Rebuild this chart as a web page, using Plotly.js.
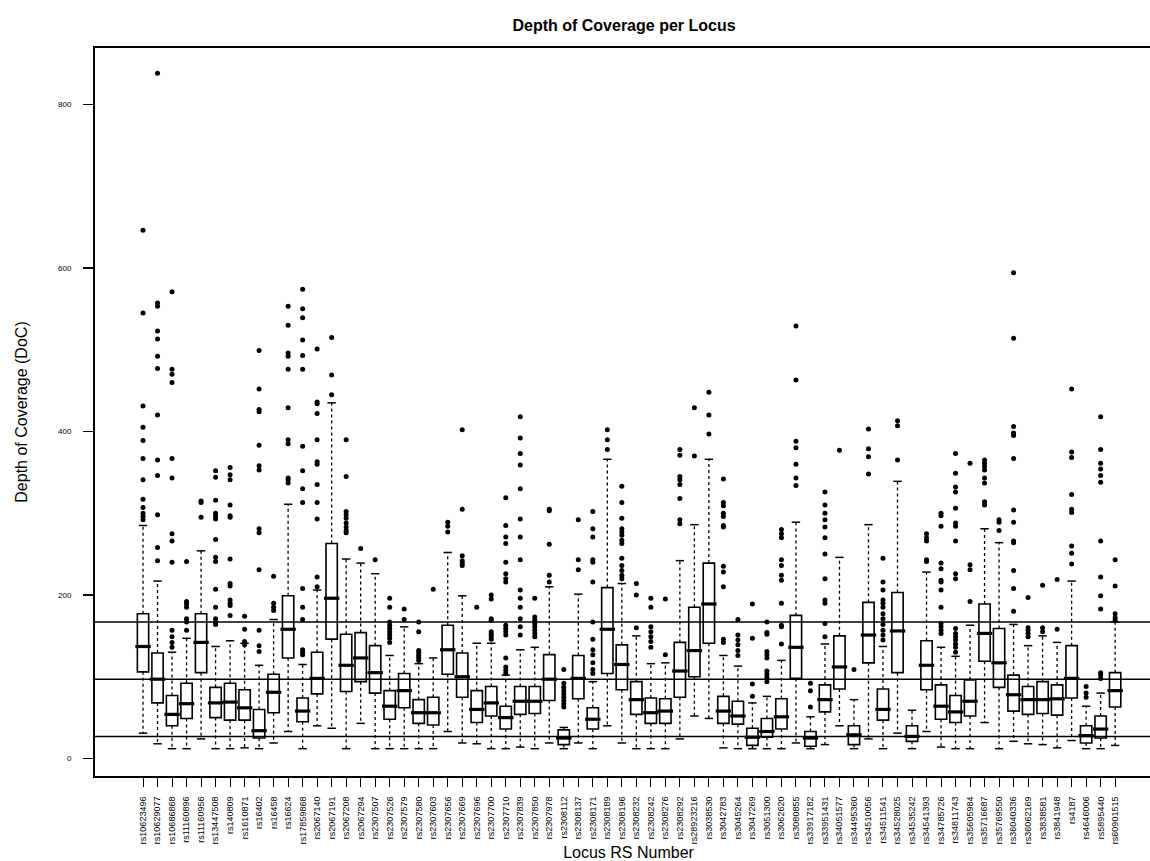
<!DOCTYPE html>
<html>
<head>
<meta charset="utf-8">
<script src="https://cdn.plot.ly/plotly-3.0.1.min.js"></script>
<style>html,body{margin:0;padding:0;background:#fff;overflow:hidden;width:1150px;height:861px;}#chart{width:1162px;height:861px;}</style>
</head>
<body>
<div id="chart"></div>
<script>
var loci = ["rs10623496","rs10629077","rs10686868","rs11160896","rs11160956","rs13447508","rs140809","rs1610871","rs16402","rs16458","rs16624","rs17859868","rs2067140","rs2067191","rs2067208","rs2067294","rs2307507","rs2307526","rs2307579","rs2307580","rs2307603","rs2307656","rs2307669","rs2307696","rs2307700","rs2307710","rs2307839","rs2307850","rs2307978","rs2308112","rs2308137","rs2308171","rs2308189","rs2308196","rs2308232","rs2308242","rs2308276","rs2308292","rs28923216","rs3038530","rs3042783","rs3045264","rs3047269","rs3051300","rs3062620","rs3080855","rs33917182","rs33951431","rs34051577","rs34495360","rs34510056","rs34511541","rs34528025","rs34535242","rs34541393","rs34785726","rs34811743","rs35605984","rs35716687","rs35769550","rs36040336","rs36062169","rs3838581","rs3841948","rs4187","rs4646006","rs5895440","rs60901515"];

var lowerWhisker = [31,18,12,12,24,12,12,13,12,19,33,12,40,37,12,43,12,12,12,12,12,33,19,18,12,12,14,12,19,12,19,12,40,19,12,12,12,24,52,49,13,12,12,12,12,19,12,17,40,12,24,12,31,12,33,14,12,12,44,12,21,18,17,13,22,12,12,16];
var q1 = [106,68,40,49,105,50,47,47,25,56,123,45,79,146,82,94,80,48,62,43,41,103,75,44,52,36,54,55,71,17,73,36,104,84,54,43,43,75,100,141,43,42,16,26,36,98,15,57,85,17,117,47,105,21,84,48,44,52,119,87,58,54,55,53,74,19,25,63];
var median = [137,97,54,67,142,68,69,62,34,81,158,58,98,196,114,123,105,64,83,56,56,133,100,60,68,50,70,70,97,25,98,48,158,115,72,56,58,107,132,189,58,52,26,33,51,136,25,72,112,29,151,60,156,27,114,64,57,70,153,117,78,72,72,73,98,28,36,83];
var q3 = [177,129,77,92,177,87,92,84,60,103,199,74,130,263,152,154,138,83,104,72,75,163,129,83,88,64,88,88,127,35,126,62,209,139,94,74,73,142,185,239,76,70,37,49,73,175,33,90,150,40,191,85,203,40,144,90,77,96,189,159,102,88,94,90,138,40,52,105];
var upperWhisker = [285,217,130,147,254,137,144,141,114,170,311,115,206,435,244,239,226,126,161,116,123,252,199,141,141,102,133,136,210,38,201,94,366,214,150,116,117,242,286,366,126,113,68,76,120,289,51,140,246,72,286,137,339,59,228,136,125,163,281,264,164,138,150,142,217,64,80,167];
var outliers = [
 [646,545,431,405,389,367,341,317,307,300,296,292],
 [838,557,553,523,513,492,477,420,365,346,298,258,242],
 [571,476,470,460,367,343,275,266,240,157,149,142,136],
 [241,192,189,185,171,167,157],
 [315,313,295],
 [352,344,316,300,296,293,268,246,241,207,185,171,167,164],
 [356,347,341,310,297,295,244,214,211,194,190,187,175],
 [174,158,143,139],
 [499,452,427,424,383,358,353,281,276,231,157,138,131],
 [223,190,185,181],
 [553,530,496,492,476,429,390,385,343,341,337],
 [574,550,539,512,493,476,382,352,330,313,208,185,170,133,130,127],
 [501,436,434,422,390,363,360,335,313,293,222,210],
 [515,469,445],
 [390,345,302,298,294,288,283,279,276],
 [257],
 [243],
 [196,185,167,163,159,155,151,147,142],
 [183,170],
 [167,155,132,129,126,123,120],
 [207],
 [289,284,277],
 [402,305,248,242,239,236],
 [185],
 [200,195,171,169,155,152,149,146],
 [319,285,271,263,240,226,220,216,163,159,155,151,123,112,108,104],
 [418,392,373,359,330,293,271,243,206,196,185,171,161,151],
 [196,173,169,165,161,157,153,149],
 [305,303,262,224,216],
 [109,92,87,83,79,75,71,67,63],
 [292,243,231],
 [302,281,271,243,240,216,167,146,133,127,117,109,104],
 [402,390,378],
 [333,313,294,281,277,273,267,263,245,236,230,224,220],
 [214,200,160],
 [196,185,161,155,149,143,136],
 [195,127],
 [378,371,345,341,335,318,292,287],
 [429,370],
 [448,420,397],
 [342,313,309,300,296,285,283,235,228,210,146,142],
 [170,151,145,139,132,126],
 [189,147,91,76],
 [167,154,152,131,127,123,107,103,99,94],
 [280,275,270,243,236,224,218,190,163,161,140],
 [529,463,388,380,360,343,334],
 [92,83,63],
 [326,310,300,292,283,270,250,220,194,190,165,149],
 [377],
 [109],
 [403,379,369,348],
 [245,216,206,194,190,185,177,171,164,157,151,145],
 [413,407,365],
 [],
 [275,270,266,243,241],
 [300,297,284,239,232,218,216,206,185,165,161,157,153],
 [373,349,332,326,306,288,284,266,226,220,159,153,149,145,140,136,130],
 [361,237,231,192],
 [365,361,357,353,343,337,314,310],
 [292,289,279],
 [594,514,406,398,395,367,304,289,266,264,230,208,180],
 [197,160,157,153,149],
 [212,160,155],
 [219,158],
 [452,375,368,323,305,301,260,251,238],
 [88,80,75],
 [418,378,361,354,346,338,266,222,199,183,105,102,98],
 [243,211,177,172,169]
];
var referenceLines = [27, 97, 167];
var yTicks = [0, 200, 400, 600, 800];

// build derived trace arrays
var whiskX = [], whiskY = [];
var capX = [], capY = [];
var outX = [], outY = [];
for (var i = 0; i < loci.length; i++) {
  whiskX.push(loci[i], loci[i], null, loci[i], loci[i], null);
  whiskY.push(q3[i], upperWhisker[i], null, q1[i], lowerWhisker[i], null);
  capX.push(loci[i], loci[i]);
  capY.push(upperWhisker[i], lowerWhisker[i]);
  for (var j = 0; j < outliers[i].length; j++) {
    outX.push(loci[i]);
    outY.push(outliers[i][j]);
  }
}

var traces = [
  {
    type: 'box', x: loci, q1: q1, median: median, q3: q3,
    lowerfence: q1, upperfence: q3,
    boxpoints: false, width: 0.78, whiskerwidth: 0,
    fillcolor: '#ffffff', line: {color: '#000000', width: 1.6},
    hoverinfo: 'skip', showlegend: false
  },
  {
    type: 'scatter', mode: 'lines', x: whiskX, y: whiskY,
    line: {color: '#000000', width: 1.3, dash: '3px,3px'},
    connectgaps: false, hoverinfo: 'skip', showlegend: false
  },
  {
    type: 'scatter', mode: 'markers', x: capX, y: capY,
    marker: {symbol: 'line-ew', size: 6, color: '#000000', line: {color: '#000000', width: 1.5}},
    hoverinfo: 'skip', showlegend: false
  },
  {
    type: 'scatter', mode: 'markers', x: loci, y: median,
    marker: {symbol: 'line-ew', size: 11, color: '#000000', line: {color: '#000000', width: 3.2}},
    hoverinfo: 'skip', showlegend: false
  },
  {
    type: 'scatter', mode: 'markers', x: outX, y: outY,
    marker: {symbol: 'circle', size: 5, color: '#000000'},
    hoverinfo: 'skip', showlegend: false
  }
];

var shapes = referenceLines.map(function (v) {
  return {type: 'line', xref: 'paper', x0: 0, x1: 1, yref: 'y', y0: v, y1: v,
          line: {color: '#000000', width: 1.6}};
});

var layout = {
  width: 1162, height: 861,
  margin: {l: 95, r: 0, t: 48, b: 85},
  paper_bgcolor: '#ffffff', plot_bgcolor: '#ffffff',
  font: {family: 'Liberation Sans, Arial, sans-serif', color: '#000000'},
  title: {text: '<b>Depth of Coverage per Locus</b>', xref: 'paper', x: 0.4958, xanchor: 'center',
          y: 0.97, yanchor: 'middle', font: {size: 16, color: '#000000'}},
  xaxis: {
    type: 'category', range: [-3.31, 70.23], autorange: false,
    showline: true, mirror: true, linecolor: '#000000', linewidth: 2,
    ticks: 'outside', ticklen: 9, tickwidth: 1, tickcolor: '#000000',
    ticklabelstandoff: 6,
    tickangle: -90, tickfont: {size: 9, color: '#000000'},
    showgrid: false, zeroline: false,
    title: {text: 'Locus RS Number', font: {size: 16, color: '#000000'}, standoff: 2}
  },
  yaxis: {
    range: [-21.4, 869], autorange: false,
    tickvals: yTicks, ticktext: yTicks.map(String),
    showline: true, linecolor: '#000000', linewidth: 2,
    ticks: 'outside', ticklen: 10, tickwidth: 1.2, tickcolor: '#000000',
    ticklabelstandoff: 10,
    tickfont: {size: 8, color: '#000000'},
    showgrid: false, zeroline: false,
    title: {text: 'Depth of Coverage (DoC)', font: {size: 16, color: '#000000'}, standoff: 26}
  },
  shapes: shapes,
  showlegend: false
};

Plotly.newPlot('chart', traces, layout, {displayModeBar: false, staticPlot: true});
</script>
</body>
</html>
